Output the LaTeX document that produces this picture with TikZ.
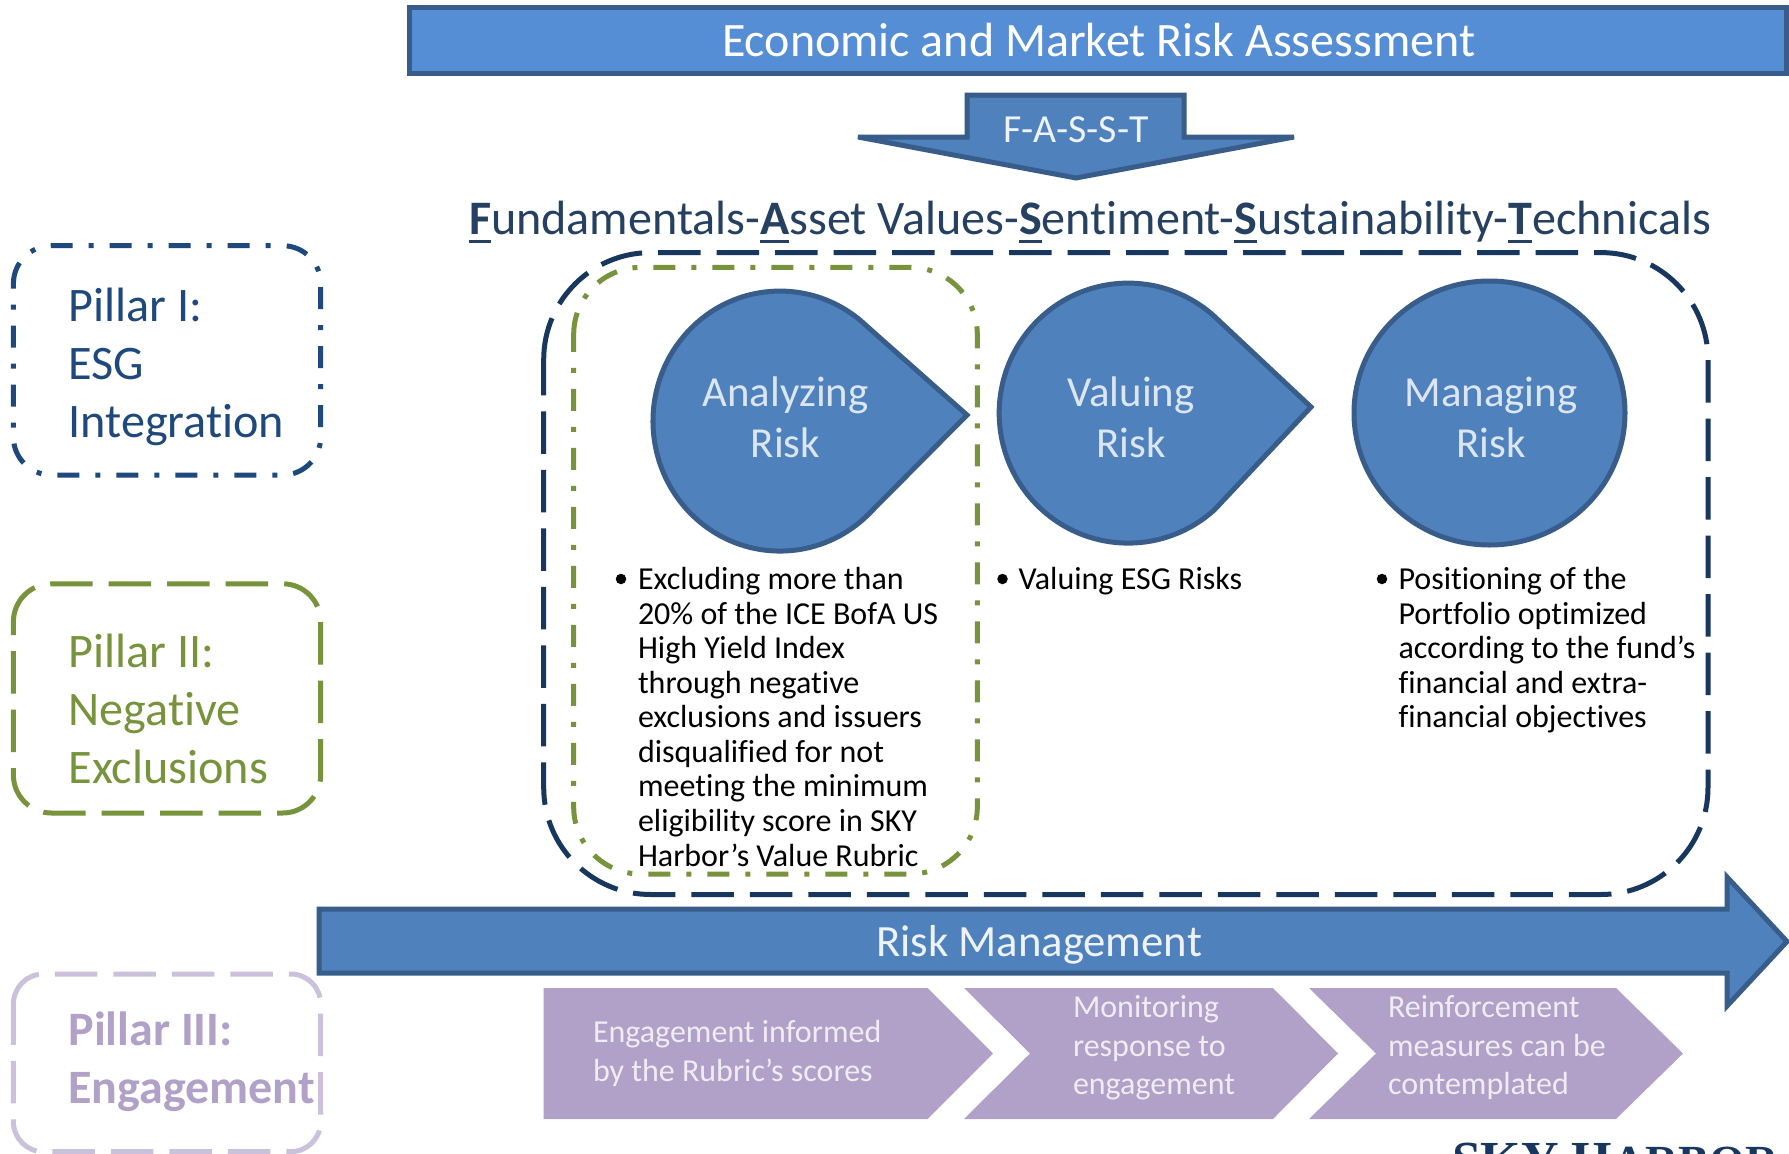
\documentclass[tikz,border=0pt]{standalone}
\usepackage{fontspec}
\setmainfont{Carlito}[Ligatures=CommonOff]
\newfontfamily\logofont{Liberation Serif}
\definecolor{barfill}{HTML}{558ED5}
\definecolor{shapefill}{HTML}{4F81BD}
\definecolor{shapeline}{HTML}{385D8A}
\definecolor{navy}{HTML}{1F497D}
\definecolor{deepnavy}{HTML}{17375E}
\definecolor{headtext}{HTML}{254061}
\definecolor{olive}{HTML}{77933C}
\definecolor{lilacline}{HTML}{CCC1DA}
\definecolor{lilac}{HTML}{B1A0C7}
\definecolor{pale}{HTML}{DCE6F2}
\definecolor{paler}{HTML}{EEF3F9}
\definecolor{chevtext}{HTML}{F0ECF4}
\newcommand\fs[2]{\fontsize{#1pt}{#2pt}\selectfont}
\newcommand\kf[1]{\setbox0=\hbox{\bfseries #1}\rlap{\rule[-9pt]{\wd0}{3.3pt}}\box0}
\newcommand\rrframe[6]{\draw[#1] ({#2},{#3+#6}) arc[start angle=180,end angle=90,radius=#6 pt] -- ({#4-#6},{#3}) arc[start angle=90,end angle=0,radius=#6 pt] -- ({#4},{#5-#6}) arc[start angle=0,end angle=-90,radius=#6 pt] -- ({#2+#6},{#5}) arc[start angle=-90,end angle=-180,radius=#6 pt] -- cycle;}
\tikzset{
  x=1pt,y=-1pt,
  solidshape/.style={fill=shapefill,draw=shapeline,line width=5pt,line join=miter},
  longdash/.style={line width=5pt,dash pattern=on 42.5pt off 16pt},
  dashdot/.style={line width=5pt,dash pattern=on 22pt off 16pt on 5pt off 16pt},
  lbl/.style={inner sep=0pt,outer sep=0pt,anchor=base west,align=left},
  ctr/.style={inner sep=0pt,outer sep=0pt,anchor=base,align=center},
  chev/.style={fill=lilac,draw=none},
  chevlbl/.style={lbl,text=chevtext,font=\fs{32}{38.5}},
  body/.style={lbl,text=black,font=\fs{32}{34.55}},
  blt/.style={inner sep=0pt,outer sep=0pt,circle,fill=black,minimum size=10.5pt},
  pillar/.style={lbl,font=\fs{48.2}{58}},
  riskname/.style={ctr,text=pale,font=\fs{42.8}{51}},
}
\begin{document}
\begin{tikzpicture}
\path[use as bounding box,clip] (0,0) rectangle (1789,1154);
\fill[white] (0,0) rectangle (1789,1154);
% top bar
\draw[fill=barfill,draw=shapeline,line width=5pt] (409.5,7.5) rectangle (1786,73);
\node[lbl,text=white,font=\fs{48}{58}] (title) at (722,56) {Economic and Market Risk Assessment};
% FASST arrow
\draw[solidshape] (967,95) -- (1184,95) -- (1184,137) -- (1294,137) -- (1076,178) -- (858,137) -- (967,137) -- cycle;
\node[ctr,text=paler,font=\fs{39.8}{44}] (fasst) at (1076,142.5) {F-A-S-S-T};
% heading
\node[lbl,text=headtext,font=\fs{48.1}{54}] (heading) at (469,234) {\kf{F}undamentals-\kf{A}sset Values-\kf{S}entiment-\kf{S}ustainability-\kf{T}echnicals};
% pillars
\rrframe{navy,dashdot}{13.4}{245.7}{320.7}{475}{38}
\node[pillar,text=navy] (p1) at (68.5,437.5) {Pillar I:\\ESG\\Integration};
\rrframe{olive,longdash}{13.4}{583.8}{320.7}{813}{38}
\node[pillar,text=olive] (p2) at (68.5,783.5) {Pillar II:\\Negative\\Exclusions};
\rrframe{lilacline,longdash}{13.4}{974}{320.7}{1151.7}{30}
\node[pillar,text=lilac,font=\fs{48}{58}\bfseries] (p3) at (68.5,1103.5) {Pillar III:\\Engagement};
% frames
\rrframe{deepnavy,longdash}{543.7}{252.6}{1708}{894.5}{107}
\rrframe{olive,dashdot}{573.7}{267.4}{977.3}{874}{67}
% teardrops
\draw[solidshape] (967,415) -- (866.6,326) arc[start angle=47,end angle=313,x radius=127pt,y radius=130pt] -- cycle;
\draw[solidshape] (1311,407) -- (1214.5,316.5) arc[start angle=48,end angle=312,x radius=129pt,y radius=130pt] -- cycle;
\draw[solidshape] (1625,413) arc[start angle=0,end angle=360,x radius=135.5pt,y radius=132pt] -- cycle;
\node[riskname] (r1) at (785.5,457) {Analyzing\\Risk};
\node[riskname] (r2) at (1131,457) {Valuing\\Risk};
\node[riskname] (r3) at (1491,457) {Managing\\Risk};
% bullets
\node[blt] (b1) at (621,579) {};
\node[body] (t1) at (638,866) {Excluding more than\\20\% of the ICE BofA US\\High Yield Index\\through negative\\exclusions and issuers\\disqualified for not\\meeting the minimum\\eligibility score in SKY\\Harbor’s Value Rubric};
\node[blt] (b2) at (1002.5,579) {};
\node[body] (t2) at (1018.5,589.5) {Valuing ESG Risks};
\node[blt] (b3) at (1382,579) {};
\node[body] (t3) at (1398.5,727.7) {Positioning of the\\Portfolio optimized\\according to the fund’s\\financial and extra-\\financial objectives};
% risk management arrow
\draw[solidshape] (319,909) -- (1727,909) -- (1727,877) -- (1787,941.5) -- (1727,1006) -- (1727,973) -- (319,973) -- cycle;
\node[ctr,text=paler,font=\fs{44.7}{52}] (rm) at (1039,956.5) {Risk Management};
% chevrons
\fill[chev] (543.6,988) -- (927.6,988) -- (993,1053.5) -- (927.6,1119) -- (543.6,1119) -- cycle;
\fill[chev] (964,988) -- (1273,988) -- (1338,1053.5) -- (1273,1119) -- (964,1119) -- (1030,1053.5) -- cycle;
\fill[chev] (1309,988) -- (1616,988) -- (1683,1053.5) -- (1616,1119) -- (1309,1119) -- (1376,1053.5) -- cycle;
\node[chevlbl] (c1) at (593,1081) {Engagement informed\\by the Rubric’s scores};
\node[chevlbl] (c2) at (1073,1094.5) {Monitoring\\response to\\engagement};
\node[chevlbl] (c3) at (1388,1094.5) {Reinforcement\\measures can be\\contemplated};
% logo
\node[lbl,text=deepnavy,font=\logofont\bfseries\fs{52}{60}] (logo) at (1452,1177) {SKY H{\fs{46}{60}ARBOR}};
\end{tikzpicture}
\end{document}
